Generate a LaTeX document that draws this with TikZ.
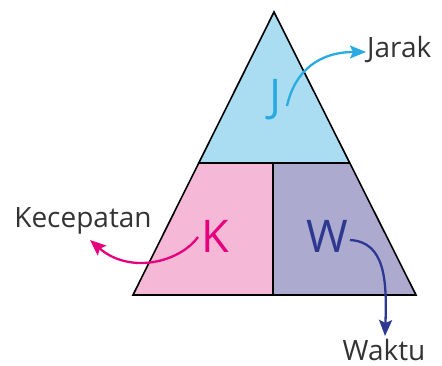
\documentclass[tikz,border=0pt]{standalone}
\usepackage{fontspec}
\setmainfont{Open Sans}
\usetikzlibrary{arrows.meta}
\definecolor{topfill}{RGB}{170,220,242}
\definecolor{leftfill}{RGB}{245,184,214}
\definecolor{rightfill}{RGB}{172,170,206}
\definecolor{jcol}{RGB}{41,171,226}
\definecolor{kcol}{RGB}{230,0,126}
\definecolor{wcol}{RGB}{46,56,145}
\definecolor{labcol}{RGB}{51,51,51}
\begin{document}
\begin{tikzpicture}[x=1pt,y=-1pt,
  edge/.style={draw=black,line width=1.6pt,line join=miter},
  bigletter/.style={font=\fontsize{45}{45}\selectfont,inner sep=0pt},
  lab/.style={font=\fontsize{28}{28}\selectfont,text=labcol,inner sep=0pt},
  curvearrow/.style={line width=2.3pt,-{Stealth[length=16pt,width=13pt,inset=3pt]}}]
\useasboundingbox (0,0) rectangle (442,366);
\coordinate (A) at (274,12);
\coordinate (BL) at (133,295);
\coordinate (BR) at (416,295);
\coordinate (ML) at (198.8,163);
\coordinate (MR) at (349.8,163);
\coordinate (MT) at (273,163);
\coordinate (MB) at (273,295);
\fill[topfill] (A) -- (ML) -- (MR) -- cycle;
\fill[leftfill] (ML) -- (MT) -- (MB) -- (BL) -- cycle;
\fill[rightfill] (MT) -- (MR) -- (BR) -- (MB) -- cycle;
\draw[edge] (A) -- (BL) -- (BR) -- cycle;
\draw[edge] (ML) -- (MR);
\draw[edge] (MT) -- (MB);
\node[bigletter,text=jcol] (J) at (276,100) {J};
\node[bigletter,text=kcol] (K) at (215,236) {K};
\node[bigletter,text=wcol] (W) at (327,236) {W};
\node[lab,anchor=base west] (Jarak) at (367,58) {Jarak};
\node[lab,anchor=base] (Kec) at (83,228) {Kecepatan};
\node[lab,anchor=base] (Waktu) at (384,360) {Waktu};
\coordinate (js) at (287,106);
\coordinate (ks) at (198,237);
\coordinate (ws) at (350,240);
\coordinate (jt) at (366,52);
\coordinate (kt) at (90,240);
\coordinate (wt) at (385,336);
\draw[curvearrow,draw=jcol] (js) .. controls (295,70) and (320,52) .. (jt);
\draw[curvearrow,draw=kcol] (ks) .. controls (180,262) and (130,275) .. (kt);
\draw[curvearrow,draw=wcol] (ws) .. controls (385,242) and (387,280) .. (wt);
\end{tikzpicture}
\end{document}
